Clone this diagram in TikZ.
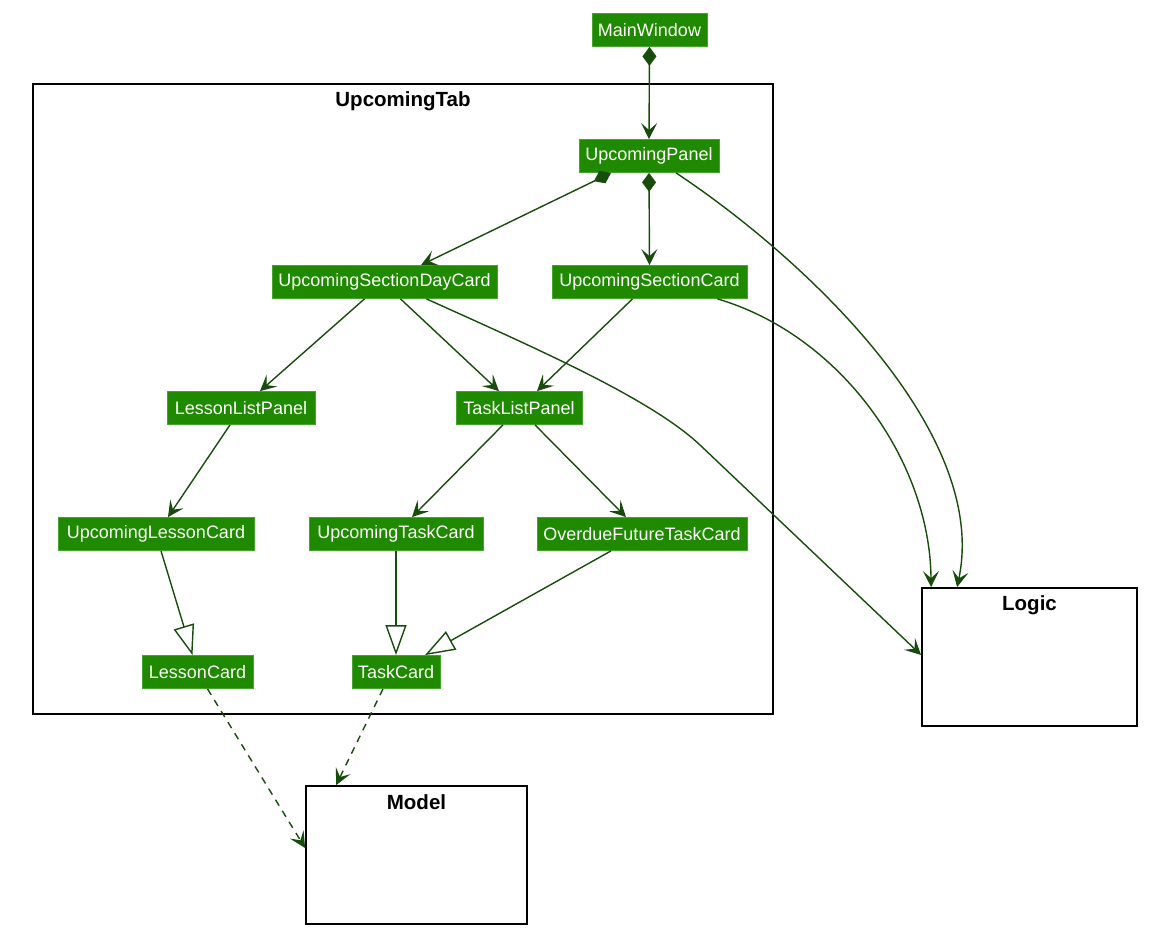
\documentclass[tikz,border=0pt]{standalone}
\usepackage{fontspec}
\setmainfont{Liberation Sans}
\usetikzlibrary{arrows.meta,calc}
\definecolor{umlfill}{HTML}{1F8A00}
\definecolor{umlborder}{HTML}{45A52E}
\definecolor{umledge}{HTML}{174C0C}
\begin{document}
\begin{tikzpicture}[x=1pt,y=-1pt,
  cls/.style={fill=umlfill, draw=umlborder, line width=0.8pt, text=white,
    font=\fontsize{18pt}{20pt}\selectfont, minimum height=33pt, inner xsep=6pt, inner ysep=0pt},
  pkg/.style={draw=black, line width=1.8pt, inner sep=0pt},
  pkgtitle/.style={font=\fontsize{20.5pt}{22pt}\selectfont\bfseries, text=black, inner sep=0pt},
  vhead/.tip={Stealth[length=16pt,width=16pt,inset=7pt]},
  dep/.style={draw=umledge, line width=1.4pt, -vhead},
  comp/.style={draw=umledge, line width=1.4pt, {Diamond[length=19pt,width=14pt]}-vhead},
  inh/.style={draw=umledge, line width=1.4pt, -{Triangle[open,length=30pt,width=21pt]}},
  use/.style={dep, dash pattern=on 7pt off 6pt}
]
\useasboundingbox (0,0) rectangle (1152,939);

% packages
\node[pkg, minimum width=740pt, minimum height=630pt] (tab) at (403,399) {};
\node[pkgtitle] (tabt) at ($(tab.north)+(0,18)$) {UpcomingTab};
\node[pkg, minimum width=215pt, minimum height=138pt] (logic) at (1029.5,657) {};
\node[pkgtitle] (logict) at ($(logic.north)+(0,18)$) {Logic};
\node[pkg, minimum width=221pt, minimum height=138pt] (model) at (416.5,855) {};
\node[pkgtitle] (modelt) at ($(model.north)+(0,17)$) {Model};

% classes
\node[cls, minimum width=113pt] (mw) at (649.5,30) {MainWindow};
\node[cls, minimum width=140pt] (up) at (649,156) {UpcomingPanel};
\node[cls, minimum width=225pt] (usdc) at (384.5,282) {UpcomingSectionDayCard};
\node[cls, minimum width=195pt] (usc) at (649.5,282) {UpcomingSectionCard};
\node[cls, minimum width=148pt] (llp) at (241,408) {LessonListPanel};
\node[cls, minimum width=126pt] (tlp) at (519,408) {TaskListPanel};
\node[cls, minimum width=196pt] (ulc) at (156,534) {UpcomingLessonCard};
\node[cls, minimum width=174pt] (utc) at (396,534) {UpcomingTaskCard};
\node[cls, minimum width=210pt] (oftc) at (642,534) {OverdueFutureTaskCard};
\node[cls, minimum width=111pt] (lc) at (197.5,672) {LessonCard};
\node[cls, minimum width=88pt] (tc) at (396,672) {TaskCard};

% composition
\draw[comp] (mw.south) -- (up.north);
\draw[comp] ($(up.south)+(-38,0)$) -- ($(usdc.north)+(36.5,0)$);
\draw[comp] (up.south) -- (usc.north);

% dependencies
\draw[dep] ($(up.south)+(27,0)$) .. controls (800,255) and (990,430) .. ($(logic.north west)+(36,0)$);
\draw[dep] ($(usc.south)+(68,0)$) .. controls (840,335) and (930,460) .. ($(logic.north west)+(10,0)$);
\draw[dep] ($(usdc.south)+(42,0)$) .. controls (535,348) and (650,398) .. (700,445) -- ($(logic.west)+(0,-2)$);
\draw[dep] ($(usdc.south)+(-20,0)$) -- ($(llp.north)+(19,0)$);
\draw[dep] ($(usdc.south)+(16,0)$) -- ($(tlp.north)+(-20,0)$);
\draw[dep] ($(usc.south)+(-17,0)$) -- ($(tlp.north)+(18,0)$);
\draw[dep] ($(llp.south)+(-11,0)$) -- ($(ulc.north)+(12,0)$);
\draw[dep] ($(tlp.south)+(-16,0)$) -- ($(utc.north)+(16,0)$);
\draw[dep] ($(tlp.south)+(16,0)$) -- ($(oftc.north)+(-16,0)$);

% inheritance
\draw[inh] ($(ulc.south)+(5,0)$) -- ($(lc.north)+(-5,0)$);
\draw[inh] (utc.south) -- (tc.north);
\draw[inh] ($(oftc.south)+(-31,0)$) -- ($(tc.north)+(29,0)$);

% usage of model
\draw[use] ($(lc.south)+(10,0)$) -- ($(model.west)+(0,-7)$);
\draw[use] ($(tc.south)+(-13,0)$) -- ($(model.north west)+(31,0)$);
\end{tikzpicture}
\end{document}
